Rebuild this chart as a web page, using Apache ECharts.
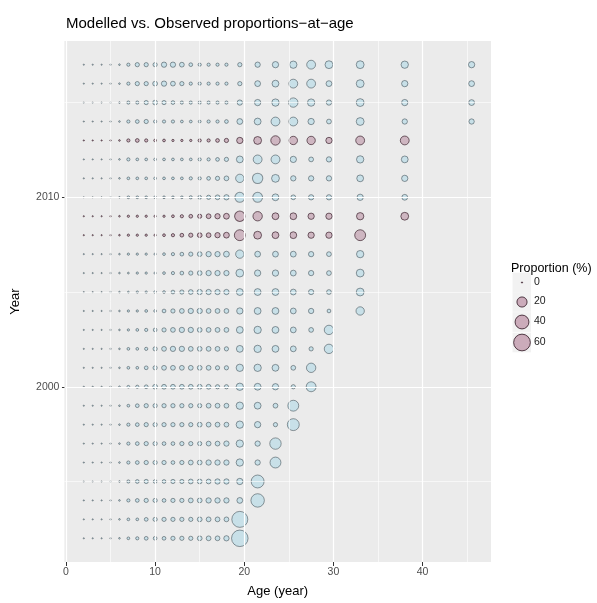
<!DOCTYPE html>
<html>
<head>
<meta charset="utf-8">
<script src="https://cdn.jsdelivr.net/npm/echarts@6/dist/echarts.min.js"></script>
<style>
  html, body { margin: 0; padding: 0; background: #ffffff; }
  #chart { width: 597px; height: 603px; }
</style>
</head>
<body>
<div id="chart"></div>
<script>
// Age classes (plus groups shown at their mid-age)
const ages = [2, 3, 4, 5, 6, 7, 8, 9, 10, 11, 12, 13, 14, 15, 16, 17, 18,
              19.5, 21.5, 23.5, 25.5, 27.5, 29.5, 33, 38, 45.5];

// Modelled proportions-at-age (%), one row per year; each row runs from age 2
// up to that year's plus group
const modelledYears = [1992, 1993, 1994, 1995, 1996, 1997, 1998, 1999, 2000, 2001,
                       2002, 2003, 2004, 2005, 2006, 2007, 2010, 2011, 2012,
                       2014, 2015, 2016, 2017];
const modelledByYear = [
  [0, 0, 0, 0.02, 0.05, 0.6, 1.0, 1.6, 1.6, 1.6, 2.3, 2.3, 2.3, 3.2, 3.2, 3.2, 4.2, 58.6],
  [0, 0, 0, 0.02, 0.05, 0.6, 0.6, 1.6, 2.3, 2.3, 2.3, 2.3, 2.3, 3.2, 3.2, 3.2, 3.2, 54.7],
  [0, 0, 0, 0.02, 0.05, 1.0, 1.6, 2.3, 2.3, 1.6, 2.3, 2.3, 3.2, 3.2, 4.2, 4.2, 4.2, 5.3, 37.5],
  [0, 0, 0, 0.02, 0.05, 1.0, 1.6, 2.3, 1.6, 1.6, 2.3, 2.3, 3.2, 3.2, 3.2, 4.2, 4.2, 6.5, 34.4],
  [0, 0, 0, 0.02, 0.05, 1.0, 1.6, 2.3, 2.3, 2.3, 1.6, 2.3, 3.2, 3.2, 4.2, 4.2, 4.2, 9.4, 4.2, 23.5],
  [0, 0, 0, 0.02, 0.05, 1.0, 1.6, 2.3, 2.3, 1.6, 1.6, 2.3, 2.3, 2.3, 3.2, 3.2, 4.2, 9.4, 4.2, 26.0],
  [0, 0, 0, 0.02, 0.05, 1.0, 1.6, 2.3, 2.3, 2.3, 2.3, 2.3, 2.3, 3.2, 3.2, 3.2, 3.2, 9.4, 6.5, 2.3, 28.7],
  [0, 0, 0, 0.02, 0.05, 0.6, 1.6, 2.3, 2.3, 2.3, 2.3, 2.3, 2.3, 2.3, 3.2, 3.2, 3.2, 9.4, 7.9, 3.2, 23.5],
  [0, 0, 0, 0.02, 0.05, 0.6, 1.0, 1.6, 3.2, 3.2, 3.2, 3.2, 3.2, 3.2, 3.2, 2.3, 2.3, 9.4, 7.9, 6.5, 2.3, 18.8],
  [0, 0, 0, 0.02, 0.05, 0.6, 0.6, 1.6, 2.3, 3.2, 3.2, 3.2, 3.2, 3.2, 3.2, 2.3, 2.3, 9.4, 9.4, 7.9, 3.2, 16.7],
  [0, 0, 0, 0.02, 0.05, 0.6, 0.6, 1.0, 2.3, 3.2, 4.2, 4.2, 3.2, 3.2, 3.2, 3.2, 2.3, 7.9, 9.4, 7.9, 5.3, 2.3, 16.7],
  [0, 0, 0, 0.02, 0.05, 0.3, 0.6, 1.0, 1.6, 2.3, 3.2, 4.2, 4.2, 3.2, 3.2, 3.2, 3.2, 7.9, 9.4, 7.9, 5.3, 3.2, 16.7],
  [0, 0, 0, 0.02, 0.05, 0.3, 0.3, 0.6, 0.6, 1.6, 2.3, 3.2, 4.2, 4.2, 3.2, 3.2, 3.2, 6.5, 7.9, 7.9, 5.3, 4.2, 1.6, 12.8],
  [0, 0, 0, 0.02, 0.05, 0.1, 0.3, 0.3, 0.6, 0.6, 1.6, 2.3, 3.2, 4.2, 4.2, 4.2, 4.2, 7.9, 7.9, 7.9, 5.3, 4.2, 3.2, 11.0],
  [0, 0, 0, 0.02, 0.05, 0.1, 0.3, 0.3, 0.3, 0.6, 1.0, 1.6, 2.3, 3.2, 4.2, 4.2, 4.2, 11.0, 6.5, 6.5, 5.3, 4.2, 3.2, 11.0],
  [0, 0, 0, 0.02, 0.05, 0.3, 0.3, 0.3, 0.3, 0.6, 1.0, 1.6, 2.3, 3.2, 4.2, 4.2, 5.3, 12.8, 5.3, 5.3, 5.3, 4.2, 3.2, 9.4],
  [0, 0, 0, 0.02, 0.05, 0.6, 0.6, 0.6, 0.6, 0.6, 0.6, 0.6, 1.0, 1.6, 2.3, 3.2, 4.2, 18.8, 18.8, 7.9, 3.2, 4.2, 4.2, 6.5, 5.3],
  [0, 0, 0, 0.02, 0.05, 0.6, 0.6, 0.6, 0.6, 0.6, 0.6, 0.6, 1.0, 1.0, 1.6, 2.3, 3.2, 12.8, 21.1, 11.0, 4.2, 4.2, 4.2, 7.9, 6.5],
  [0, 0, 0, 0.02, 0.05, 1.0, 0.6, 0.6, 0.6, 0.6, 0.6, 0.6, 0.6, 1.0, 1.0, 1.6, 2.3, 7.9, 14.6, 14.6, 6.5, 3.2, 4.2, 9.4, 7.9],
  [0, 0, 0, 0.02, 0.05, 1.0, 1.6, 2.3, 1.0, 1.0, 1.0, 0.6, 0.6, 0.6, 1.0, 1.0, 1.6, 5.3, 7.9, 14.6, 14.6, 6.5, 3.2, 11.0, 4.2, 4.2],
  [0, 0, 0, 0.02, 0.05, 1.0, 1.0, 2.3, 3.2, 2.3, 1.6, 1.0, 1.0, 1.0, 1.0, 1.0, 1.0, 4.2, 6.5, 9.4, 16.7, 9.4, 4.2, 11.0, 6.5, 5.3],
  [0, 0, 0, 0.02, 0.05, 1.0, 2.3, 2.3, 3.2, 4.2, 3.2, 2.3, 1.0, 1.0, 1.0, 1.0, 1.0, 2.3, 5.3, 7.9, 14.6, 14.6, 5.3, 11.0, 6.5, 5.3],
  [0, 0, 0, 0.02, 0.05, 1.0, 2.3, 2.3, 2.3, 4.2, 4.2, 3.2, 1.6, 1.0, 1.0, 1.0, 1.0, 2.3, 4.2, 6.5, 9.4, 14.6, 11.0, 11.0, 9.4, 6.5]
];

// Observed proportions-at-age (%) for the sampled years
const observedYears = [2008, 2009, 2013];
const observedByYear = [
  [0, 0, 0, 0.02, 0.05, 0.3, 0.3, 0.3, 0.3, 0.6, 1.0, 1.6, 2.3, 3.2, 3.2, 4.2, 5.3, 23.5, 11.0, 7.9, 7.9, 6.5, 6.5, 23.5],
  [0, 0, 0, 0.02, 0.05, 0.3, 0.3, 0.3, 0.3, 0.3, 0.6, 1.0, 1.6, 2.3, 3.2, 4.2, 5.3, 21.1, 16.7, 7.9, 7.9, 6.5, 6.5, 9.4, 11.0],
  [0, 0, 0, 0.02, 0.05, 1.0, 1.6, 1.0, 0.6, 0.6, 0.3, 0.3, 0.3, 1.0, 1.0, 1.6, 2.3, 6.5, 11.0, 16.7, 12.8, 12.8, 6.5, 14.6, 14.6]
];

// Axis breaks
const xBreaks = [0, 10, 20, 30, 40];
const xMinorBreaks = [5, 15, 25, 35, 45];
const yBreaks = [2000, 2010];
const yMinorBreaks = [1995, 2005, 2015];
const legendValues = [0, 20, 40, 60];

// Point diameter grows with the square root of the proportion (area scale)
function pointSize(v) {
  return 1.2 + 2.0 * Math.sqrt(v);
}

function toPoints(years, rows) {
  const pts = [];
  years.forEach((yr, i) => {
    rows[i].forEach((v, j) => pts.push([ages[j], yr, v]));
  });
  return pts;
}

const modelledFill = 'rgba(173,216,230,0.7)';
const modelledStroke = 'rgba(40,55,62,0.62)';
const observedFill = 'rgba(160,95,125,0.48)';
const observedStroke = 'rgba(45,20,32,0.8)';

// ggplot-style data range with 5% expansion on both sides
const ageLo = ages[0], ageHi = ages[ages.length - 1];
const allYears = modelledYears.concat(observedYears);
const yrLo = Math.min(...allYears), yrHi = Math.max(...allYears);
const xPad = (ageHi - ageLo) * 0.05, yPad = (yrHi - yrLo) * 0.05;

const gridLines = []
  .concat(xBreaks.map(v => ({ xAxis: v, lineStyle: { width: 1.2 } })))
  .concat(xMinorBreaks.map(v => ({ xAxis: v, lineStyle: { width: 0.6 } })))
  .concat(yBreaks.map(v => ({ yAxis: v, lineStyle: { width: 1.2 } })))
  .concat(yMinorBreaks.map(v => ({ yAxis: v, lineStyle: { width: 0.6 } })));

const font = '"Liberation Sans", Arial, Helvetica, sans-serif';

const chart = echarts.init(document.getElementById('chart'), null, { renderer: 'canvas' });

// Legend key positions (centre y of each key)
const keyCentres = [282.5, 302, 322, 342.5];
const legendGraphics = [
  { type: 'text', left: 511, top: 262,
    style: { text: 'Proportion (%)', font: '12.5px ' + font, fill: '#000000' } }
];
legendValues.forEach((v, i) => {
  const cy = keyCentres[i];
  legendGraphics.push({ type: 'rect', shape: { x: 512.5, y: cy - 9.8, width: 18.5, height: 19.6 },
    style: { fill: '#F2F2F2' }, z: 1 });
  const r = pointSize(v) / 2;
  legendGraphics.push({ type: 'circle', shape: { cx: 522, cy: cy, r: r },
    style: { fill: observedFill, stroke: observedStroke, lineWidth: 1 }, z: 2 });
  legendGraphics.push({ type: 'text', left: 534, top: cy - 6,
    style: { text: String(v), font: '10.5px ' + font, fill: '#1a1a1a' }, z: 2 });
});

chart.setOption({
  animation: false,
  backgroundColor: '#ffffff',
  textStyle: { fontFamily: font },
  title: {
    text: 'Modelled vs. Observed proportions\u2212at\u2212age',
    left: 61, top: 11,
    textStyle: { fontSize: 15, fontWeight: 'normal', color: '#000000', fontFamily: font }
  },
  grid: {
    left: 64.4, top: 41, right: 106, bottom: 35,
    show: true, backgroundColor: '#EBEBEB', borderWidth: 0
  },
  xAxis: {
    type: 'value',
    min: ageLo - xPad, max: ageHi + xPad,
    name: 'Age (year)', nameLocation: 'middle', nameGap: 23,
    nameTextStyle: { fontSize: 13, color: '#000000', fontFamily: font },
    axisLine: { show: false },
    axisTick: { show: true, customValues: xBreaks, length: 4, lineStyle: { color: '#333333', width: 1 } },
    axisLabel: { customValues: xBreaks, color: '#4D4D4D', fontSize: 10.5, margin: 5, fontFamily: font,
                 formatter: v => String(v) },
    splitLine: { show: false }
  },
  yAxis: {
    type: 'value',
    min: yrLo - yPad, max: yrHi + yPad,
    name: 'Year', nameLocation: 'middle', nameGap: 42, nameRotate: 90,
    nameTextStyle: { fontSize: 13, color: '#000000', fontFamily: font },
    axisLine: { show: false },
    axisTick: { show: true, customValues: yBreaks, length: 4, lineStyle: { color: '#333333', width: 1 } },
    axisLabel: { customValues: yBreaks, color: '#4D4D4D', fontSize: 10.5, margin: 5, fontFamily: font,
                 formatter: v => String(v) },
    splitLine: { show: false }
  },
  graphic: legendGraphics,
  series: [
    {
      type: 'line', data: [], silent: true, z: 1,
      markLine: {
        silent: true, symbol: ['none', 'none'], label: { show: false },
        lineStyle: { color: '#FFFFFF', type: 'solid' },
        emphasis: { disabled: true },
        animation: false,
        data: gridLines
      }
    },
    {
      name: 'Modelled', type: 'scatter', z: 3,
      progressive: 0, large: false,
      data: toPoints(modelledYears, modelledByYear),
      symbol: 'circle',
      symbolSize: d => pointSize(d[2]),
      itemStyle: { color: modelledFill, borderColor: modelledStroke, borderWidth: 1 }
    },
    {
      name: 'Observed', type: 'scatter', z: 4,
      progressive: 0, large: false,
      data: toPoints(observedYears, observedByYear),
      symbol: 'circle',
      symbolSize: d => pointSize(d[2]),
      itemStyle: { color: observedFill, borderColor: observedStroke, borderWidth: 1 }
    }
  ]
});
</script>
</body>
</html>
